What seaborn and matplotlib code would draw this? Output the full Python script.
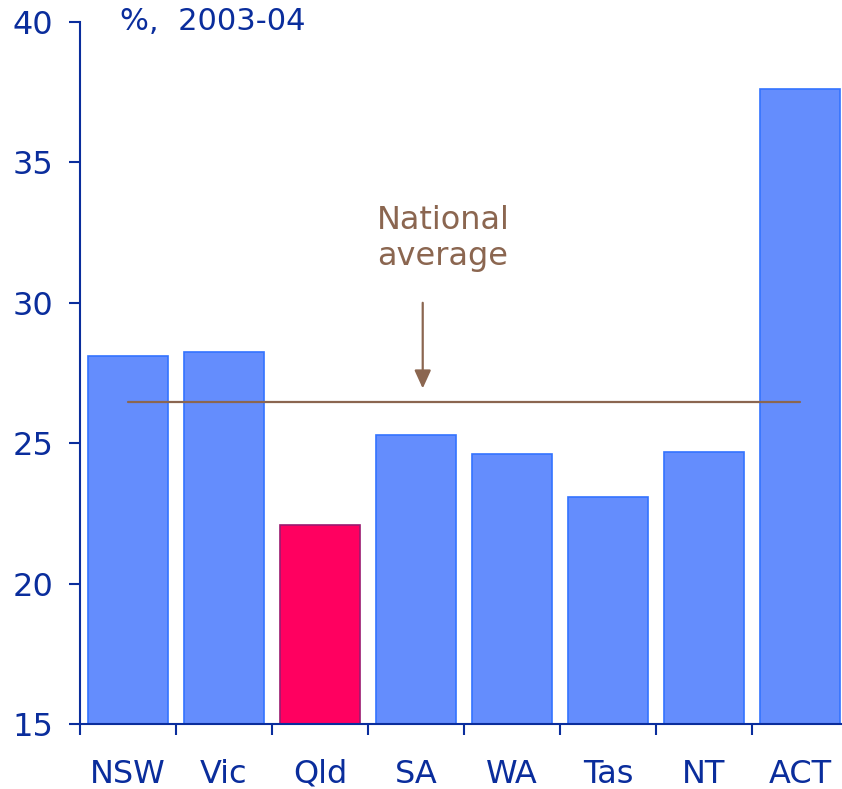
import matplotlib
matplotlib.use("Agg")
import matplotlib.pyplot as plt
import seaborn as sns
import pandas as pd

states = ["NSW", "Vic", "Qld", "SA", "WA", "Tas", "NT", "ACT"]
values = [28.1, 28.25, 22.1, 25.3, 24.6, 23.1, 24.7, 37.6]
national_avg = 26.45

blue = "#0A2D9C"
bar_blue = "#648DFD"
edge_blue = "#3373FF"
pink = "#FF0060"
brown = "#8B6650"

df = pd.DataFrame({"State": states, "Value": values})
colors = [pink if s == "Qld" else bar_blue for s in states]

sns.set_style("white")
plt.rcParams["font.family"] = ["DejaVu Sans"]

fig = plt.figure(figsize=(8.42, 7.89), dpi=100)
ax = fig.add_axes([80 / 842, 65 / 789, 768 / 842, 702 / 789])

sns.barplot(data=df, x="State", y="Value", hue="State", palette=colors,
            legend=False, width=0.83, ax=ax, saturation=1)
for p, s in zip(ax.patches, states):
    p.set_edgecolor("#9B1A70" if s == "Qld" else edge_blue)
    p.set_linewidth(1.2)

ax.set_ylim(15, 40)
ax.set_xlim(-0.5, 7.5)
ax.set_yticks([15, 20, 25, 30, 35, 40])
ax.set_xlabel("")
ax.set_ylabel("")

# national average line from NSW centre to ACT centre
ax.plot([0, 7], [national_avg, national_avg], color=brown, lw=1.6)
ax.annotate("", xy=(3.07, 26.95), xytext=(3.07, 30.0),
            arrowprops=dict(arrowstyle="-|>,head_length=1.1,head_width=0.5",
                            color=brown, lw=1.6, shrinkA=0, shrinkB=0))
ax.text(3.28, 32.28, "National\naverage", color=brown, fontsize=23,
        ha="center", va="center", linespacing=1.2)

ax.text(-0.08, 40, "%,  2003-04", color=blue, fontsize=22, ha="left",
        va="center", clip_on=False)

for side in ["top", "right"]:
    ax.spines[side].set_visible(False)
for side in ["left", "bottom"]:
    ax.spines[side].set_color(blue)
    ax.spines[side].set_linewidth(1.5)

# x ticks at category boundaries
ax.set_xticks([i - 0.5 for i in range(8)], minor=True)
ax.tick_params(axis="x", which="major", length=0, pad=25, labelsize=23,
               labelcolor=blue)
ax.tick_params(axis="x", which="minor", length=8, width=1.5, color=blue,
               direction="out", bottom=True)
ax.tick_params(axis="y", length=8, width=1.5, color=blue, direction="out",
               left=True, pad=11, labelsize=23, labelcolor=blue)

fig.savefig("out.png", dpi=100)
